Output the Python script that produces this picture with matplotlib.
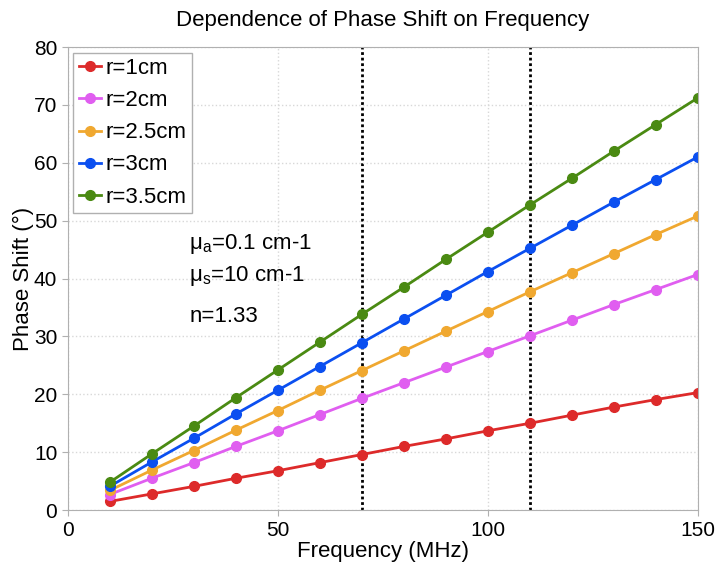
import matplotlib
matplotlib.use('Agg')
import matplotlib.pyplot as plt

plt.rcParams['font.family'] = ['Liberation Sans', 'DejaVu Sans']

freq = [10, 20, 30, 40, 50, 60, 70, 80, 90, 100, 110, 120, 130, 140, 150]
phase_1 = [1.5, 2.8, 4.1, 5.5, 6.8, 8.2, 9.6, 11.0, 12.3, 13.7, 15.0, 16.4, 17.8, 19.1, 20.3]
phase_2 = [2.7, 5.5, 8.2, 11.0, 13.7, 16.5, 19.3, 22.0, 24.7, 27.4, 30.1, 32.8, 35.5, 38.1, 40.7]
phase_25 = [3.4, 6.9, 10.3, 13.8, 17.2, 20.7, 24.1, 27.5, 30.9, 34.3, 37.7, 41.0, 44.3, 47.6, 50.8]
phase_3 = [4.1, 8.3, 12.4, 16.6, 20.7, 24.8, 28.9, 33.0, 37.1, 41.2, 45.2, 49.2, 53.2, 57.1, 61.0]
phase_35 = [4.8, 9.7, 14.5, 19.4, 24.2, 29.0, 33.8, 38.5, 43.3, 48.0, 52.7, 57.3, 62.0, 66.6, 71.2]

labels = ['r=1cm', 'r=2cm', 'r=2.5cm', 'r=3cm', 'r=3.5cm']
colors = ['#dd2a2a', '#e05ef0', '#f0a830', '#0b4ff0', '#4a8a12']
series = [phase_1, phase_2, phase_25, phase_3, phase_35]
vlines = [70, 110]

fig = plt.figure(figsize=(7.2, 5.7), dpi=100)
ax = fig.add_axes([0.094, 0.105, 0.875, 0.8125])

for ys, lab, c in zip(series, labels, colors):
    ax.plot(freq, ys, '-o', color=c, label=lab, lw=2, ms=7)

for xv in vlines:
    ax.axvline(xv, color='black', ls=(0, (1, 1)), lw=2, zorder=1)

ax.set_xlim(0, 150)
ax.set_ylim(0, 80)
ax.set_xticks([0, 50, 100, 150])
ax.set_yticks(range(0, 81, 10))
ax.grid(True, color='#d8d8d8', ls=':', lw=1)
for s in ax.spines.values():
    s.set_color('#b0b0b0')
ax.tick_params(labelsize=15, color='#b0b0b0', length=4)

ax.set_xlabel('Frequency (MHz)', fontsize=16, labelpad=1)
ax.set_ylabel('Phase Shift (°)', fontsize=16, labelpad=0)
ax.set_title('Dependence of Phase Shift on Frequency', fontsize=16, pad=15)

ax.text(29, 46, r'$\mathregular{\mu_a}$=0.1 cm-1', fontsize=16, va='center')
ax.text(29, 40.5, r'$\mathregular{\mu_s}$=10 cm-1', fontsize=16, va='center')
ax.text(29, 33.5, 'n=1.33', fontsize=16, va='center')

leg = ax.legend(loc='upper left', fontsize=16, fancybox=False, framealpha=1,
                handlelength=1.0, handletextpad=0.2, borderpad=0.25,
                labelspacing=0.5, borderaxespad=0.25)
leg.get_frame().set_edgecolor('#b0b0b0')

fig.savefig('out.png', dpi=100)
